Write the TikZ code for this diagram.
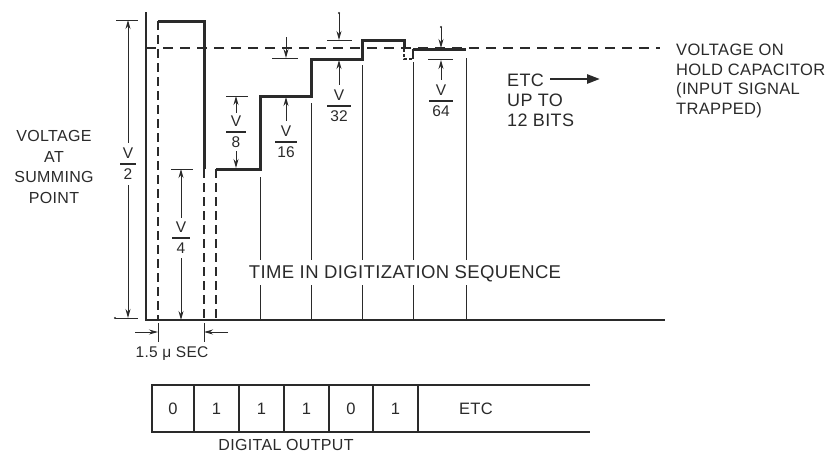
\documentclass[tikz,border=0pt]{standalone}
\usepackage{fontspec}
\setmainfont{Liberation Sans}
\newfontfamily\lbl{Liberation Sans}[LetterSpace=2]
\newfontfamily\lbn{Liberation Sans}
\usetikzlibrary{arrows.meta}
\definecolor{ink}{HTML}{2A2A2A}
\newcommand\frc[5]{%
  \node[frtxt] (#1n) at (#2,#3-10.5) {V};
  \node[frtxt] (#1d) at (#2,#3+10.5) {#4};
  \draw[frbar] (#2-#5,#3) -- (#2+#5,#3);
}
\begin{document}
\begin{tikzpicture}[x=1pt,y=-1pt,
  every node/.style={inner sep=0pt,text=ink},
  wave/.style={line width=3pt,ink,line join=miter,line cap=butt},
  vdash/.style={line width=1.9pt,ink,dash pattern=on 9pt off 5pt},
  hold/.style={line width=1.3pt,ink,dash pattern=on 10pt off 7pt},
  axisline/.style={line width=1.6pt,ink},
  thinline/.style={line width=1pt,ink},
  tick/.style={line width=1pt,ink},
  dim/.style={line width=1pt,ink,-{Stealth[length=9pt,width=5pt]}},
  frtxt/.style={font=\lbn\fontsize{15.5}{16}\selectfont},
  frbar/.style={line width=1.1pt,ink},
  boxline/.style={line width=1.5pt,ink}]
\useasboundingbox[fill=white] (0,0) rectangle (833,456);

% axes
\coordinate (axtop) at (146,12);
\coordinate (axorg) at (146,320);
\coordinate (axend) at (665,320);
\draw[axisline] (axtop) -- (axorg) -- (axend);

% hold capacitor dashed level
\coordinate (h0) at (146,48);
\coordinate (h1) at (660,48);
\draw[hold] (h0) -- (h1);

% time grid lines
\foreach \x/\t in {260/177,311/103,362/65,413/62,466/58}{
  \draw[thinline] (\x,\t) -- (\x,260) (\x,285) -- (\x,320);
}

% dashed verticals
\draw[vdash] (158,21) -- (158,320);
\draw[vdash] (204,169) -- (204,320);
\draw[vdash] (216,169) -- (216,320);

% waveform
\draw[wave] (158,21) -- (204,21) -- (204,169);
\draw[wave] (216,169) -- (260,169) -- (260,96) -- (311,96) -- (311,59)
  -- (362,59) -- (362,40) -- (404,40) -- (404,49);
\draw[line width=1.5pt,ink,dash pattern=on 3pt off 2pt] (404,49) -- (404,59) -- (413,59);
\draw[line width=1.2pt,ink] (413,59) -- (413,49);
\draw[wave] (413,49) -- (466,49);

% V/2
\draw[tick] (116,20) -- (138,20);
\draw[tick] (115,318) -- (138,318);
\fill[ink] (115,318) circle (1.2pt);
\frc{f2}{128}{164}{2}{8}
\draw[dim] (f2n.north) ++(0,-5) -- (128,20);
\draw[dim] (f2d.south) ++(0,5) -- (128,318);

% V/4
\draw[tick] (171,169) -- (193,169);
\frc{f4}{181}{238}{4}{9}
\draw[dim] (f4n.north) ++(0,-4) -- (181,169);
\draw[dim] (f4d.south) ++(0,4) -- (181,320);

% V/8
\draw[tick] (226,96) -- (248,96);
\frc{f8}{236}{132}{8}{10}
\draw[dim] (f8n.north) ++(0,-3) -- (236,96);
\draw[dim] (f8d.south) ++(0,3) -- (236,168);

% V/16
\draw[tick] (272,58) -- (298,58);
\coordinate (t16) at (286,37);
\draw[dim] (t16) -- (286,58);
\frc{f16}{286}{142}{16}{11}
\draw[dim] (f16n.north) ++(0,-5) -- (286,97);

% V/32
\draw[tick] (327,40) -- (352,40);
\coordinate (t32) at (339,13);
\fill[ink] (t32) circle (1.1pt);
\draw[dim] (t32) -- (339,40);
\frc{f32}{339}{106}{32}{12}
\draw[dim] (f32n.north) ++(0,-5) -- (339,60);

% V/64
\draw[tick] (428,59) -- (453,59);
\coordinate (t64) at (441,27);
\fill[ink] (t64) circle (1.1pt);
\draw[dim] (t64) -- (441,48);
\frc{f64}{441}{101}{64}{12}
\draw[dim] (f64n.north) ++(0,-5) -- (441,60);

% 1.5 usec
\draw[tick] (158,323) -- (158,342);
\draw[tick] (204,323) -- (204,342);
\coordinate (ua) at (135,332);
\coordinate (ub) at (228,332);
\draw[dim] (ua) -- (158,332);
\draw[dim] (ub) -- (204,332);
\node[font=\lbl\fontsize{15.5}{17}\selectfont] (usec) at (172,354) {1.5 μ SEC};

% labels
\node[align=center,font=\lbl\fontsize{16}{20.5}\selectfont] (vsum) at (54,167)
  {VOLTAGE\\AT\\SUMMING\\POINT};
\node[align=left,anchor=west,font=\lbl\fontsize{16.5}{19.5}\selectfont] (vhold) at (676,81)
  {VOLTAGE ON\\HOLD CAPACITOR\\(INPUT SIGNAL\\TRAPPED)};
\node[align=left,anchor=west,font=\lbl\fontsize{18}{20}\selectfont] (etc) at (507,100)
  {ETC\\UP TO\\12 BITS};
\coordinate (ea) at (550,79);
\coordinate (eb) at (600,79);
\draw[line width=2.6pt,ink,-{Triangle[length=13pt,width=9pt]}] (ea) -- (eb);
\node[font=\lbl\fontsize{18.5}{20}\selectfont] (time) at (405,274)
  {TIME IN DIGITIZATION SEQUENCE};

% digital output register
\draw[boxline] (590,385) -- (152,385) -- (152,432) -- (590,432);
\foreach \x in {194,239,284,329,373,418}{
  \draw[boxline] (\x,385) -- (\x,432);
}
\foreach \x/\d/\n in {173/0/b1,216.5/1/b2,261.5/1/b3,306.5/1/b4,351/0/b5,395.5/1/b6}{
  \node[font=\lbn\fontsize{16.5}{18}\selectfont] (\n) at (\x,409) {\d};
}
\node[font=\lbl\fontsize{16.5}{18}\selectfont] (betc) at (476,409) {ETC};
\node[font=\lbl\fontsize{16}{18}\selectfont] (dout) at (286,445) {DIGITAL OUTPUT};
\end{tikzpicture}
\end{document}
